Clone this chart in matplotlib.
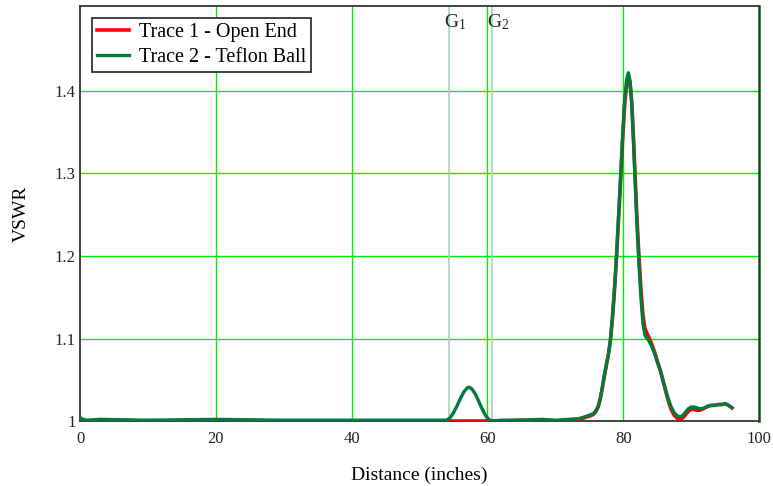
import numpy as np
import matplotlib
matplotlib.use("Agg")
import matplotlib.pyplot as plt

plt.rcParams['font.family'] = ['Liberation Serif', 'DejaVu Serif']
plt.rcParams['mathtext.fontset'] = 'custom'
plt.rcParams['mathtext.rm'] = 'Liberation Serif'
plt.rcParams['mathtext.it'] = 'Liberation Serif'

# ---------------- data ----------------
dist = [0, 0.5, 1, 3, 10, 20, 30, 40, 50, 54.0, 54.5, 55, 55.5, 56, 56.5, 57, 57.3,
        57.7, 58.2, 58.7, 59.2, 59.7, 60.2, 60.6, 62, 65, 68, 70, 72, 73.5, 74.3, 75,
        75.6, 76.0, 76.3, 76.6, 76.9, 77.2, 77.5, 77.8, 78.1, 78.4, 78.7, 79.0, 79.3,
        79.6, 79.9, 80.2, 80.5, 80.75, 81.0, 81.25, 81.5, 81.75, 82.0, 82.3, 82.6,
        82.9, 83.2, 83.5, 83.8, 84.2, 84.6, 85.0, 85.5, 86.0, 86.5, 87.0, 87.5, 88.0,
        88.4, 88.8, 89.2, 89.6, 90.0, 90.4, 90.8, 91.2, 91.6, 92.0, 92.5, 93.0, 93.5,
        94.0, 94.5, 95.0, 95.5, 96.0]

# Trace 2 - Teflon Ball
vswr_ball = [1.004, 1.002, 1.001, 1.002, 1.001, 1.002, 1.001, 1.001, 1.001, 1.001,
             1.004, 1.010, 1.018, 1.027, 1.035, 1.040, 1.041, 1.039, 1.033, 1.024,
             1.015, 1.007, 1.002, 1.000, 1.001, 1.001, 1.002, 1.001, 1.002, 1.003,
             1.005, 1.007, 1.009, 1.013, 1.018, 1.027, 1.040, 1.055, 1.068, 1.080,
             1.098, 1.125, 1.160, 1.200, 1.248, 1.295, 1.345, 1.388, 1.414, 1.422,
             1.412, 1.385, 1.340, 1.290, 1.240, 1.192, 1.150, 1.118, 1.104, 1.100,
             1.097, 1.090, 1.082, 1.072, 1.060, 1.045, 1.030, 1.018, 1.010, 1.006,
             1.005, 1.007, 1.011, 1.015, 1.017, 1.017, 1.016, 1.015, 1.015, 1.016,
             1.018, 1.019, 1.019, 1.020, 1.020, 1.021, 1.019, 1.016]

# Trace 1 - Open End
vswr_open = [1.003, 1.001, 1.000, 1.001, 1.000, 1.001, 1.000, 1.000, 1.000, 1.000,
             1.000, 1.000, 1.000, 1.000, 1.000, 1.000, 1.000, 1.000, 1.000, 1.000,
             1.000, 1.000, 1.001, 1.000, 1.000, 1.001, 1.001, 1.000, 1.001, 1.002,
             1.004, 1.006, 1.008, 1.012, 1.017, 1.026, 1.039, 1.054, 1.067, 1.080,
             1.097, 1.124, 1.158, 1.197, 1.244, 1.291, 1.340, 1.383, 1.408, 1.416,
             1.410, 1.386, 1.344, 1.296, 1.248, 1.201, 1.160, 1.128, 1.112, 1.106,
             1.101, 1.093, 1.084, 1.073, 1.060, 1.044, 1.028, 1.015, 1.007, 1.003,
             1.002, 1.004, 1.008, 1.012, 1.014, 1.014, 1.013, 1.013, 1.014, 1.016,
             1.018, 1.019, 1.019, 1.020, 1.020, 1.021, 1.019, 1.016]

gate_pos = [54.4, 60.7]
gate_names = ['G$_1$', 'G$_2$']

xticks = [0, 20, 40, 60, 80, 100]
yticks = [1, 1.1, 1.2, 1.3, 1.4]
# ------------------------------------------------------------

fig = plt.figure(figsize=(7.73, 4.86), dpi=100)
ax = fig.add_axes([0.1035, 0.1337, 0.8785, 0.854])

# grid lines (bright green, no line at the borders)
for xv in xticks[1:-1]:
    ax.axvline(xv, color='#00ee00', lw=1.0, zorder=1)
for yv in yticks[1:]:
    ax.axhline(yv, color='#00ee00', lw=1.0, zorder=1)

# gate markers
for g, name in zip(gate_pos, gate_names):
    ax.axvline(g, color='#a8d4b8', lw=1.2, zorder=1)
    ax.text(g + 0.9, 1.483, name, ha='center', va='center', fontsize=14, color='#222222')

ax.plot(dist, vswr_open, color='#ff0000', lw=2.6, label='Trace 1 - Open End', zorder=3)
ax.plot(dist, vswr_ball, color='#007a3d', lw=2.4, label='Trace 2 - Teflon Ball', zorder=4)

ax.set_xlim(0, 100)
ax.set_ylim(1, 1.503)
ax.set_xticks(xticks)
ax.set_xticklabels(['0', '20', '40', '60', '80', '100'])
ax.set_yticks(yticks)
ax.set_yticklabels(['1', '1.1', '1.2', '1.3', '1.4'])
ax.tick_params(axis='x', length=0, labelsize=12, pad=7, colors='#222222')
ax.tick_params(axis='y', length=0, labelsize=12, pad=3, colors='#222222')

for s in ['left', 'top', 'bottom']:
    ax.spines[s].set_color('#333333')
    ax.spines[s].set_linewidth(1.3)
ax.spines['right'].set_color('#0b4d1a')
ax.spines['right'].set_linewidth(1.8)

ax.set_xlabel('Distance (inches)', fontsize=14, labelpad=14)
ax.set_ylabel('VSWR', fontsize=14, labelpad=18)

leg = ax.legend(loc='upper left', fontsize=14.5, frameon=True, fancybox=False,
                handlelength=1.6, handletextpad=0.5, borderpad=0.25, labelspacing=0.3,
                borderaxespad=0, bbox_to_anchor=(0.017, 0.971))
leg.get_frame().set_edgecolor('#222222')
leg.get_frame().set_linewidth(1.2)
leg.get_frame().set_alpha(1)

fig.savefig('out.png', dpi=100)
